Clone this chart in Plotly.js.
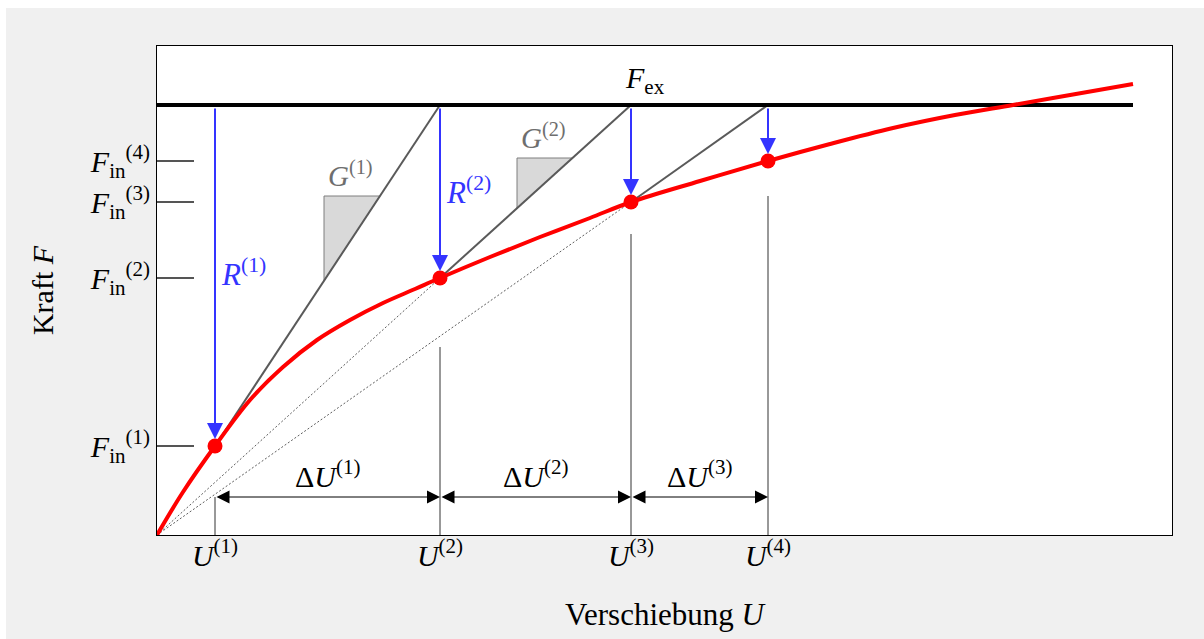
<!DOCTYPE html>
<html>
<head>
<meta charset="utf-8">
<script src="https://cdn.plot.ly/plotly-3.0.1.min.js"></script>
<style>
  html, body { margin: 0; padding: 0; background: #ffffff; }
  #chart { width: 1204px; height: 639px; }
</style>
</head>
<body>
<div id="chart"></div>
<script>
// Nonlinear load–displacement curve, Newton–Raphson style iteration sketch
const curveU = [0, 0.26, 0.58, 0.93, 1.26, 1.60, 1.93, 2.26, 2.58, 2.83, 3.33, 3.83, 4.33, 4.74, 5.43, 6.11, 6.73, 7.36, 7.98, 8.56, 9.16, 9.76];
const curveF = [0, 0.43, 0.89, 1.35, 1.68, 1.95, 2.15, 2.32, 2.46, 2.57, 2.78, 2.98, 3.17, 3.33, 3.54, 3.74, 3.91, 4.07, 4.20, 4.30, 4.405, 4.51];

// Iteration states U(k) and internal forces F_in(k)
const iterU = [0.58, 2.83, 4.74, 6.11];
const iterF = [0.89, 2.57, 3.33, 3.74];
const iterIdx = ['(1)', '(2)', '(3)', '(4)'];

// External load level
const Fex = 4.30;

// Tick labels
const uTickText = iterIdx.map(k => '<i>U</i><sup>' + k + '</sup>');
const fTickText = iterIdx.map(k => '<i>F</i><sub>in</sub><sup>' + k + '</sup>');

// ---- drawing settings ----
const serif = 'Liberation Serif';
const blue = '#3434ff';
const red = '#ff0000';
const grey = '#5a5a5a';
const dimY = 0.38;                          // height of the ΔU dimension arrows
const guideTop = [0.38, 1.88, 3.01, 3.39];  // top of the vertical extension lines
const slopeTri = [                          // stiffness triangles on the first two tangents
  { seg: 0, x: 1.67, y: 3.39 },
  { seg: 1, x: 3.60, y: 3.77 }
];

const traces = [];

// tangent segments: (U(k), F_in(k)) -> (U(k+1), Fex)
const tanX = [], tanY = [];
for (let k = 0; k < iterU.length - 1; k++) {
  tanX.push(iterU[k], iterU[k + 1], null);
  tanY.push(iterF[k], Fex, null);
}

// grey slope triangles attached to the tangents
slopeTri.forEach(t => {
  const x0 = iterU[t.seg], y0 = iterF[t.seg];
  const x1 = iterU[t.seg + 1], y1 = Fex;
  const m = (y1 - y0) / (x1 - x0);
  const yAtX = y0 + m * (t.x - x0);
  const xAtY = x0 + (t.y - y0) / m;
  traces.push({
    x: [t.x, xAtY, t.x, t.x], y: [t.y, t.y, yAtX, t.y],
    mode: 'lines', fill: 'toself', fillcolor: '#d9d9d9',
    line: { color: '#7f7f7f', width: 1 }, hoverinfo: 'skip'
  });
});

// secants from the origin to U(2) and U(3)
[1, 2].forEach(k => {
  traces.push({
    x: [0, iterU[k]], y: [0, iterF[k]], mode: 'lines',
    line: { color: '#5e5e5e', width: 1, dash: '2px,2px' }, hoverinfo: 'skip'
  });
});

traces.push({
  x: tanX, y: tanY, mode: 'lines',
  line: { color: grey, width: 2 }, hoverinfo: 'skip'
});

// vertical extension lines at U(k)
const gX = [], gY = [];
iterU.forEach((u, i) => { gX.push(u, u, null); gY.push(0, guideTop[i], null); });
traces.push({
  x: gX, y: gY, mode: 'lines',
  line: { color: '#333333', width: 1 }, hoverinfo: 'skip'
});

// external load level
traces.push({
  x: [0, curveU[curveU.length - 1]], y: [Fex, Fex], mode: 'lines',
  line: { color: '#000000', width: 4 }, hoverinfo: 'skip'
});

// load–displacement curve
traces.push({
  x: curveU, y: curveF, mode: 'lines',
  line: { color: red, width: 4, shape: 'spline', smoothing: 1 }, hoverinfo: 'skip'
});

// equilibrium iterates
traces.push({
  x: iterU, y: iterF, mode: 'markers',
  marker: { color: red, size: 15 }, hoverinfo: 'skip'
});

const annotations = [];

// residual arrows from Fex down to each iterate
iterU.forEach((u, i) => {
  annotations.push({
    x: u, y: iterF[i], ax: u, ay: Fex, xref: 'x', yref: 'y', axref: 'x', ayref: 'y',
    text: '', showarrow: true, arrowhead: 2, arrowsize: 1.6, arrowwidth: 2,
    arrowcolor: blue, standoff: 7, startstandoff: 2
  });
});

// ΔU dimension arrows
for (let k = 0; k < iterU.length - 1; k++) {
  annotations.push({
    x: iterU[k + 1], y: dimY, ax: iterU[k], ay: dimY,
    xref: 'x', yref: 'y', axref: 'x', ayref: 'y',
    text: '', showarrow: true, arrowside: 'end+start',
    arrowhead: 2, startarrowhead: 2, arrowsize: 2.6, startarrowsize: 2.6,
    arrowwidth: 1, arrowcolor: '#000000'
  });
  annotations.push({
    x: (iterU[k] + iterU[k + 1]) / 2, y: dimY, xref: 'x', yref: 'y',
    yanchor: 'bottom', yshift: 2, showarrow: false,
    text: '\u0394<i>U</i><sup>' + iterIdx[k] + '</sup>',
    font: { family: serif, size: 30, color: '#000' }
  });
}

// residual labels
[0, 1].forEach(i => {
  annotations.push({
    x: iterU[i], y: [2.63, 3.45][i], xref: 'x', yref: 'y',
    xanchor: 'left', xshift: 4, showarrow: false,
    text: '<i>R</i><sup>' + iterIdx[i] + '</sup>',
    font: { family: serif, size: 31, color: blue }
  });
});

// tangent stiffness labels
slopeTri.forEach((t, i) => {
  annotations.push({
    x: t.x, y: t.y, xref: 'x', yref: 'y',
    xanchor: 'left', yanchor: 'bottom', xshift: 2, yshift: 2, showarrow: false,
    text: '<i>G</i><sup>' + iterIdx[i] + '</sup>',
    font: { family: serif, size: 29, color: '#6e6e6e' }
  });
});

// external load label
annotations.push({
  x: 4.88, y: Fex, xref: 'x', yref: 'y', yanchor: 'bottom', yshift: 4,
  showarrow: false, text: '<i>F</i><sub>ex</sub>',
  font: { family: serif, size: 30, color: '#000' }
});

const layout = {
  width: 1204, height: 639,
  margin: { l: 157, r: 32, t: 46, b: 104 },
  paper_bgcolor: '#f0f0f0', plot_bgcolor: '#ffffff',
  showlegend: false,
  font: { family: serif, size: 30, color: '#000' },
  xaxis: {
    range: [0, 10.15], showgrid: false, zeroline: false,
    showline: true, mirror: true, linecolor: '#000', linewidth: 1,
    tickvals: iterU, ticktext: uTickText, ticks: '',
    ticklabelstandoff: -6,
    tickfont: { family: serif, size: 30, color: '#000' },
    title: { text: 'Verschiebung <i>U</i>', font: { family: serif, size: 31, color: '#000' }, standoff: 32 },
    fixedrange: true
  },
  yaxis: {
    range: [0, 4.89], showgrid: false, zeroline: false,
    showline: true, mirror: true, linecolor: '#000', linewidth: 1,
    tickvals: iterF, ticktext: fTickText,
    ticks: 'inside', ticklen: 37, tickwidth: 1.5, tickcolor: '#555555',
    tickfont: { family: serif, size: 30, color: '#000' },
    title: { text: 'Kraft <i>F</i>', font: { family: serif, size: 30, color: '#000' }, standoff: 27 },
    fixedrange: true
  },
  shapes: [
    // thin white border strips at top and left of the canvas
    { type: 'rect', xref: 'paper', yref: 'paper', x0: -0.16, x1: -0.1488, y0: -0.22, y1: 1.1,
      fillcolor: '#ffffff', line: { width: 0 }, layer: 'above' },
    { type: 'rect', xref: 'paper', yref: 'paper', x0: -0.16, x1: 1.04, y0: 1.0777, y1: 1.1,
      fillcolor: '#ffffff', line: { width: 0 }, layer: 'above' }
  ],
  annotations: annotations
};

Plotly.newPlot('chart', traces, layout, { displayModeBar: false, staticPlot: true });
</script>
</body>
</html>
